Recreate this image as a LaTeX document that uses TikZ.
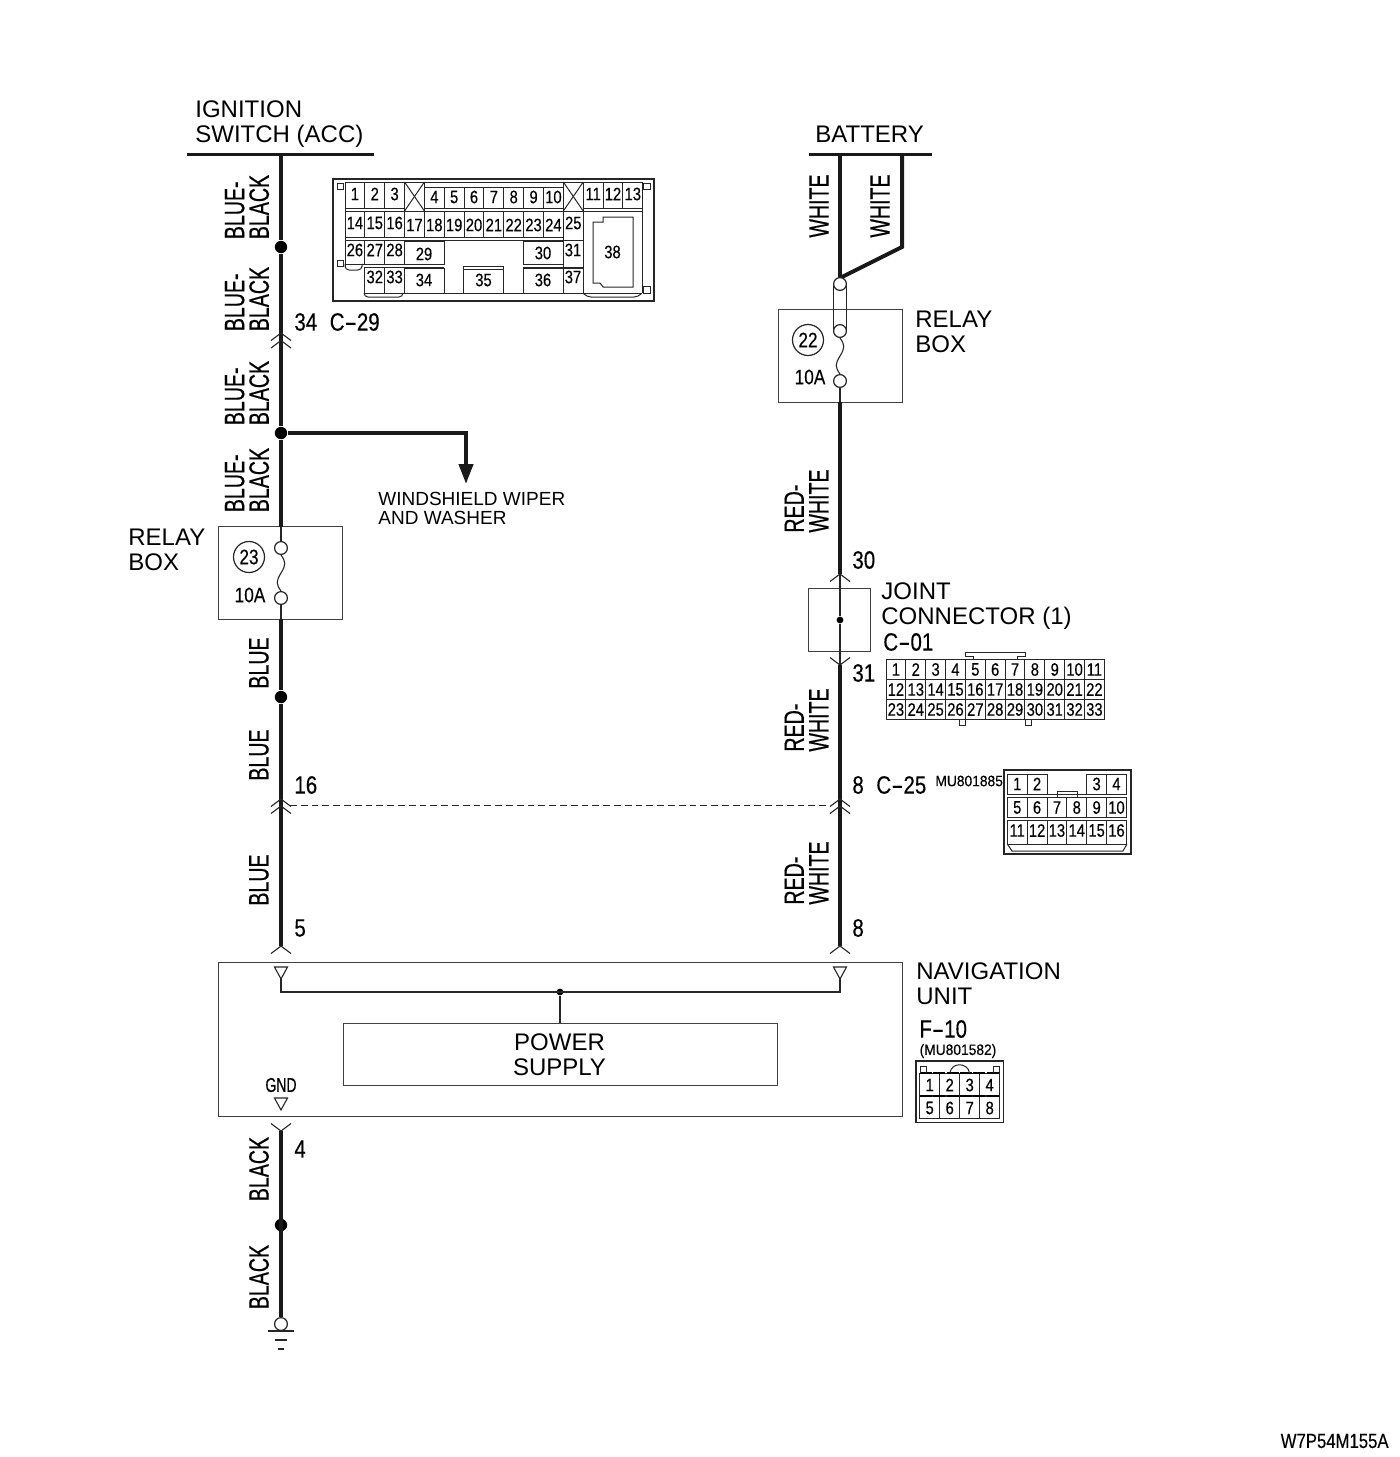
\documentclass[tikz,border=0pt]{standalone}
\usepackage{fontspec}
\usepackage{graphicx}
\setmainfont{Liberation Sans}
\newfontfamily\narrowf[FakeStretch=0.70,FakeBold=0.5]{Liberation Sans}
\newfontfamily\numf[FakeStretch=0.82,FakeBold=0.3]{Liberation Sans}
\newfontfamily\pinf[FakeStretch=0.82,FakeBold=0.3]{Liberation Sans}
\newfontfamily\partf[FakeStretch=0.92,FakeBold=0.3]{Liberation Sans}
\usetikzlibrary{arrows.meta}
\newcommand{\ldash}{\scalebox{1.8}[1]{-}}
\newcommand{\cc}{19.85}
\tikzset{
  x=0.5pt,y=-0.5pt,
  wire/.style={line width=2pt,draw=black!90},
  thinw/.style={line width=0.55pt,draw=black!85},
  bar/.style={line width=1.5pt,draw=black!90},
  box/.style={line width=0.5pt,draw=black!80},
  cn/.style={line width=0.5pt,draw=black!85},
  lab/.style={inner sep=0pt,anchor=west,align=left,font=\fontsize{12pt}{12.5pt}\selectfont},
  small/.style={inner sep=0pt,anchor=west,align=left,font=\fontsize{9.5pt}{9.5pt}\selectfont},
  num/.style={inner sep=0pt,anchor=west,font=\numf\fontsize{12.5pt}{12.5pt}\selectfont},
  wl/.style={inner sep=0pt,rotate=90,align=left,font=\narrowf\fontsize{14pt}{12.3pt}\selectfont},
  pin/.style={inner sep=0pt,font=\pinf\fontsize{9pt}{9pt}\selectfont},
  fuse/.style={inner sep=0pt,font=\pinf\fontsize{10.5pt}{10.5pt}\selectfont},
  term/.style={circle,draw=black!85,line width=0.6pt,fill=white,inner sep=0pt,minimum size=6.4pt},
  ring/.style={circle,draw=black!85,line width=0.6pt,inner sep=0pt,minimum size=15.5pt,font=\pinf\fontsize{10.5pt}{10.5pt}\selectfont},
  dot/.style={circle,fill=black,inner sep=0pt,minimum size=6.2pt},
  sdot/.style={circle,fill=black,inner sep=0pt,minimum size=3.4pt},
  tri/.style={line width=0.55pt,draw=black!85},
  frame/.style={draw=black!75,line width=0.5pt,inner sep=0pt},
}
\newcommand{\chup}[2]{\draw[thinw] (#1-10,#2+7.5) -- (#1,#2) -- (#1+10,#2+7.5);}
\newcommand{\chdn}[2]{\draw[thinw] (#1-10,#2-7.5) -- (#1,#2) -- (#1+10,#2-7.5);}
\newcommand{\tridn}[2]{\draw[tri] (#1-6.5,#2) -- (#1+6.5,#2) -- (#1,#2+12) -- cycle;}
\begin{document}
\begin{tikzpicture}
\useasboundingbox (0,0) rectangle (1400,1457);
% ---------- supply bars
\coordinate (ignL) at (187,154); \coordinate (ignR) at (374,154);
\coordinate (ign) at (281,154);
\coordinate (batL) at (809,154); \coordinate (batR) at (932,154);
\coordinate (bat1) at (840,154); \coordinate (bat2) at (902,154);
\coordinate (bat2b) at (902,247); \coordinate (batJ) at (840,278);
\draw[bar] (ignL) -- (ignR);
\draw[bar] (batL) -- (batR);
\node[lab] (ignlabel) at (195,124) {IGNITION\\SWITCH (ACC)};
\node[lab] (batlabel) at (815,134) {BATTERY};
% ---------- boxes
\node[frame,minimum width=62pt,minimum height=46.5pt] (rb23) at (280,573) {};
\node[frame,minimum width=62pt,minimum height=46.5pt] (rb22) at (840,355.5) {};
\node[frame,minimum width=31pt,minimum height=31.5pt] (jc) at (839,619.5) {};
\node[frame,minimum width=342pt,minimum height=77pt] (nav) at (560,1039) {};
\node[frame,minimum width=217pt,minimum height=31pt] (ps) at (560,1054) {};
\node[inner sep=0pt,align=center,font=\fontsize{12pt}{12.5pt}\selectfont] (pslabel) at (559.5,1055) {POWER\\SUPPLY};
% ---------- left wire
\node[dot] (j1) at (281,247) {};
\node[dot] (j2) at (281,433) {};
\node[dot] (j3) at (281,697) {};
\node[dot] (j4) at (281,1225) {};
\coordinate (b23t) at (281,527);
\coordinate (b23b) at (281,619);
\coordinate (c5) at (281,946);
\coordinate (c4) at (281,1131);
\node[term] (g) at (281,1324) {};
\draw[wire] (ign) -- (j1);
\draw[wire] (j1) -- (j2);
\draw[wire] (j2) -- (b23t);
\draw[wire] (b23b) -- (j3);
\draw[wire] (j3) -- (c5);
\draw[wire] (c4) -- (g);
\chup{281}{333} \chup{281}{340.5}
\chup{281}{799} \chup{281}{806}
\chup{281}{946}
\chdn{281}{1131}
% branch
\coordinate (wa) at (466,484);
\draw[wire,-{Triangle[width=7pt,length=10pt,inset=0pt]}] (j2) -| (wa);
\node[small] (walabel) at (378,508) {WINDSHIELD WIPER\\AND WASHER};
% ground
\coordinate (g1l) at (268,1331); \coordinate (g1r) at (294,1331);
\coordinate (g2l) at (275,1340); \coordinate (g2r) at (287,1340);
\coordinate (g3l) at (278,1349); \coordinate (g3r) at (284,1349);
\draw[thinw] (g1l) -- (g1r); \draw[thinw] (g2l) -- (g2r); \draw[thinw] (g3l) -- (g3r);
% fuse 23
\node[term] (f23a) at (281,548) {};
\node[term] (f23b) at (281,598) {};
\coordinate (f23m) at (281,573);
\draw[thinw] (b23t) -- (f23a);
\draw[thinw] (f23b) -- (b23b);
\draw[thinw] (f23a.south) .. controls +(5,7) and +(5,-8) .. (f23m) .. controls +(-5,8) and +(-5,-7) .. (f23b.north);
\node[ring] (r23) at (249,557) {23};
\node[fuse] (a23) at (250,595) {10A};
\node[lab] (rb23l) at (128,550) {RELAY\\BOX};
% ---------- right wire
\coordinate (b22t) at (840,309);
\coordinate (b22b) at (840,402);
\coordinate (c30) at (840,574);
\coordinate (c31) at (840,665);
\coordinate (c85) at (840,946);
\node[sdot] (jd) at (840,620) {};
\draw[wire] (bat1) -- (batJ);
\draw[wire,line join=miter] (bat2) -- (bat2b) -- (batJ);
\draw[thinw] (833.7,284) -- (833.7,331);
\draw[thinw] (846.3,284) -- (846.3,331);
\node[term] (f22t) at (840,284) {};
\node[term] (f22a) at (840,331) {};
\node[term] (f22b) at (840,381) {};
\coordinate (f22m) at (840,356);
\draw[thinw] (f22a.south) .. controls +(5,7) and +(5,-8) .. (f22m) .. controls +(-5,8) and +(-5,-7) .. (f22b.north);
\draw[thinw] (f22b) -- (b22b);
\draw[wire] (b22b) -- (c30);
\draw[thinw] (c30) -- (jd);
\draw[thinw] (jd) -- (c31);
\draw[wire] (c31) -- (c85);
\chup{840}{574}
\chdn{840}{665}
\chup{840}{799} \chup{840}{806}
\chup{840}{946}
\node[ring] (r22) at (808,340) {22};
\node[fuse] (a22) at (810,377) {10A};
\node[lab] (rb22l) at (915,332) {RELAY\\BOX};
\node[lab] (jcl) at (881,606) {JOINT\\CONNECTOR (1)};
\node[num] (c01) at (883,642) {C\ldash 01};
% dashed shield
\coordinate (dl) at (290,805.5); \coordinate (dr) at (830,805.5);
\draw[line width=0.45pt,draw=black!85,dash pattern=on 3.4pt off 2pt] (dl) -- (dr);
% numbers
\node[num] (n34) at (294,322) {34\hspace{6.3pt}C\ldash 29};
\node[num] (n16) at (294,785) {16};
\node[num] (n30) at (852,560) {30};
\node[num] (n31) at (852,673) {31};
\node[num] (n8a) at (852,785) {8\hspace{6.3pt}C\ldash 25};
\node[num] (n5) at (294,928) {5};
\node[num] (n8b) at (852,928) {8};
\node[num] (n4) at (294,1149) {4};
% wire labels
\node[wl] (w1) at (247,207) {BLUE-\\BLACK};
\node[wl] (w2) at (247,299) {BLUE-\\BLACK};
\node[wl] (w3) at (247,393) {BLUE-\\BLACK};
\node[wl] (w4) at (247,480) {BLUE-\\BLACK};
\node[wl] (w5) at (259,663) {BLUE};
\node[wl] (w6) at (259,755) {BLUE};
\node[wl] (w7) at (259,880) {BLUE};
\node[wl] (w8) at (259,1169) {BLACK};
\node[wl] (w9) at (259,1277) {BLACK};
\node[wl] (w10) at (819,206) {WHITE};
\node[wl] (w11) at (880,206) {WHITE};
\node[wl] (w12) at (806.5,501) {RED-\\WHITE};
\node[wl] (w13) at (806.5,720) {RED-\\WHITE};
\node[wl] (w14) at (806.5,873) {RED-\\WHITE};
% ---------- navigation unit inside
\tridn{281}{967} \tridn{840}{967} \tridn{281}{1098}
\coordinate (t1) at (281,979); \coordinate (t2) at (840,979);
\coordinate (b1) at (281,992); \coordinate (b2) at (840,992);
\node[sdot] (nd) at (560,992) {};
\draw[thinw] (t1) -- (b1) -- (b2) -- (t2);
\draw[thinw] (nd) -- (ps.north);
\node[inner sep=0pt,font=\narrowf\fontsize{10pt}{10pt}\selectfont] (gnd) at (281,1085) {GND};
\node[lab] (navl) at (916,984) {NAVIGATION\\UNIT};
\node[num] (f10) at (919,1029) {F\ldash 10};
\node[inner sep=0pt,font=\partf\fontsize{7.5pt}{7.5pt}\selectfont] (mu1582) at (958,1051) {(MU801582)};
\node[inner sep=0pt,anchor=west,font=\partf\fontsize{7.5pt}{7.5pt}\selectfont] (mu1885) at (935,781) {MU801885};
\node[inner sep=0pt,anchor=east,font=\pinf\fontsize{10.2pt}{10.2pt}\selectfont] (code) at (1389,1441) {W7P54M155A};
% ---------- connector C-29
\draw[cn,line width=0.7pt] (333,179) rectangle (654,301);
\draw[cn] (345,182) -- (642,182);
\draw[cn] (337,183) rectangle (343,189);
\draw[cn] (337,260) rectangle (343,266);
\draw[cn] (643,183) rectangle (650,189);
\draw[cn] (643,286) rectangle (650,293);
\draw[cn] (345,182) -- (345,267);
\draw[cn] (642,182) -- (642,293);
\foreach \c/\n in {0/1,1/2,2/3,12/11,13/12,14/13}{
  \draw[cn] ({345+\cc*\c},182) rectangle ++(\cc,26);
  \node[pin] (c29-\n) at ({345+\cc*(\c+.5)},194) {\n};
}
\foreach \c/\n in {4/4,5/5,6/6,7/7,8/8,9/9,10/10}{
  \draw[cn] ({345+\cc*\c},187) rectangle ++(\cc,21);
  \node[pin] (c29-\n) at ({345+\cc*(\c+.5)},197) {\n};
}
\foreach \c in {3,11}{
  \draw[cn] ({345+\cc*\c},182) rectangle ++(\cc,29);
  \draw[cn] ({345+\cc*\c},182) -- ++(\cc,29);
  \draw[cn] ({345+\cc*(\c+1)},182) -- ++(-\cc,29);
}
\draw[cn] (345,211) -- (642,211);
\foreach \c/\n in {0/14,1/15,2/16}{
  \draw[cn] ({345+\cc*\c},211) rectangle ++(\cc,26);
  \node[pin] (c29-\n) at ({345+\cc*(\c+.5)},223) {\n};
}
\foreach \c/\n in {3/17,4/18,5/19,6/20,7/21,8/22,9/23,10/24}{
  \draw[cn] ({345+\cc*\c},211) rectangle ++(\cc,26);
  \node[pin] (c29-\n) at ({345+\cc*(\c+.5)},225) {\n};
}
\draw[cn] ({345+\cc*11},211) rectangle ++(\cc,29);
\node[pin] (c29-25) at ({345+\cc*11.5},223) {25};
\draw[cn] (345,240) -- (583,240);
\foreach \c/\n in {0/26,1/27,2/28}{
  \draw[cn] ({345+\cc*\c},240) rectangle ++(\cc,24);
  \node[pin] (c29-\n) at ({345+\cc*(\c+.5)},250) {\n};
}
\draw[cn] (345,267) -- (345,264);
\draw[cn] (404,241) rectangle (444,264);
\node[pin] (c29-29) at (424,254) {29};
\draw[cn] (523,241) rectangle (563,264);
\node[pin] (c29-30) at (543,253) {30};
\draw[cn] (563,240) rectangle (583,267);
\node[pin] (c29-31) at (573,250) {31};
\draw[cn] (364,267) -- (444,267);
\draw[cn] (523,267) -- (583,267);
\foreach \c/\n in {1/32,2/33}{
  \draw[cn] ({345+\cc*\c},267) rectangle ++(\cc,26);
  \node[pin] (c29-\n) at ({345+\cc*(\c+.5)},277) {\n};
}
\draw[cn] (404,268) rectangle (444,293);
\node[pin] (c29-34) at (424,280) {34};
\draw[cn] (463.7,266) rectangle (503.3,293);
\draw[cn] (463.7,269) -- (503.3,269);
\node[pin] (c29-35) at (483.5,280) {35};
\draw[cn] (523,268) rectangle (563,293);
\node[pin] (c29-36) at (543,280) {36};
\draw[cn] (563,268) rectangle (583,293);
\node[pin] (c29-37) at (573,277) {37};
\draw[cn] (364,293) -- (642,293);
\draw[cn,rounded corners=2pt] (345,267) -- (345,270) -- (362,270) -- (362,267);
\draw[cn,rounded corners=2pt] (364,293) -- (364,297) -- (403,297) -- (403,293);
\draw[cn,rounded corners=2pt] (583,293) -- (587,297) -- (638,297) -- (642,293);
\draw[cn] (593,222) -- (603,222) -- (603,217) -- (633,217) -- (633,287) -- (603,287) -- (600,283) -- (593,283) -- cycle;
\node[pin] (c29-38) at (612.5,252) {38};
% ---------- connector C-01
\foreach \r in {0,1,2}{
  \foreach \c in {0,...,10}{
    \pgfmathtruncatemacro{\n}{\r*11+\c+1}
    \draw[cn] ({886+\cc*\c},{659.5+20*\r}) rectangle ++(\cc,20);
    \node[pin] (c01-\n) at ({886+\cc*(\c+.5)},{669.5+20*\r}) {\n};
  }
}
\draw[cn] (973,659.5) -- (973,656.5) -- (965,656.5) -- (965,652.5) -- (1025,652.5) -- (1025,656.5) -- (1017,656.5) -- (1017,659.5);
\draw[cn] (959,719.5) -- (959,725.5) -- (965,725.5) -- (965,719.5);
\draw[cn] (1025,719.5) -- (1025,725.5) -- (1031,725.5) -- (1031,719.5);
% ---------- connector C-25
\draw[cn,line width=0.7pt] (1004,770) rectangle (1131,854);
\foreach \c/\n in {0/1,1/2,4/3,5/4}{
  \draw[cn] ({1007.3+\cc*\c},774) rectangle ++(\cc,20);
  \node[pin] (c25-\n) at ({1007.3+\cc*(\c+.5)},784) {\n};
}
\draw[cn] (1007.3,797) -- (1127,797);
\draw[cn] (1007.3,794) -- (1127,794);
\foreach \c/\n in {0/5,1/6,2/7,3/8,4/9,5/10}{
  \draw[cn] ({1007.3+\cc*\c},797) rectangle ++(\cc,20.3);
  \node[pin] (c25-\n) at ({1007.3+\cc*(\c+.5)},807.5) {\n};
}
\draw[cn] (1057,797) -- (1057,791) -- (1077,791) -- (1077,797);
\draw[cn] (1007.3,820) -- (1127,820);
\foreach \c/\n in {0/11,1/12,2/13,3/14,4/15,5/16}{
  \draw[cn] ({1007.3+\cc*\c},820) rectangle ++(\cc,24);
  \node[pin] (c25-\n) at ({1007.3+\cc*(\c+.5)},830.5) {\n};
}
\draw[cn] (1007.3,844) -- (1012,851) -- (1123,851) -- (1127,844);
% ---------- connector F-10
\draw[cn,line width=0.7pt] (916,1061) rectangle (1003.5,1122.5);
\foreach \c/\n in {0/1,1/2,2/3,3/4}{
  \draw[cn] ({919.7+20*\c},1073.3) rectangle ++(20,22);
  \node[pin] (f10-\n) at ({919.7+20*(\c+.5)},1085) {\n};
}
\foreach \c/\n in {0/5,1/6,2/7,3/8}{
  \draw[cn] ({919.7+20*\c},1096) rectangle ++(20,22.3);
  \node[pin] (f10-\n) at ({919.7+20*(\c+.5)},1108) {\n};
}
\draw[line width=1pt,dash pattern=on 6pt off 0.7pt] (919.7,1073.3) -- (999.7,1073.3);
\draw[line width=1pt,dash pattern=on 6pt off 0.7pt] (919.7,1096) -- (999.7,1096);
\draw[cn] (920,1073) -- (920,1066) -- (926.5,1066) -- (926.5,1073);
\draw[cn] (993,1073) -- (993,1066) -- (999.5,1066) -- (999.5,1073);
\draw[cn] (950,1073) .. controls (951,1062) and (968,1062) .. (969.5,1073);
\end{tikzpicture}
\end{document}
